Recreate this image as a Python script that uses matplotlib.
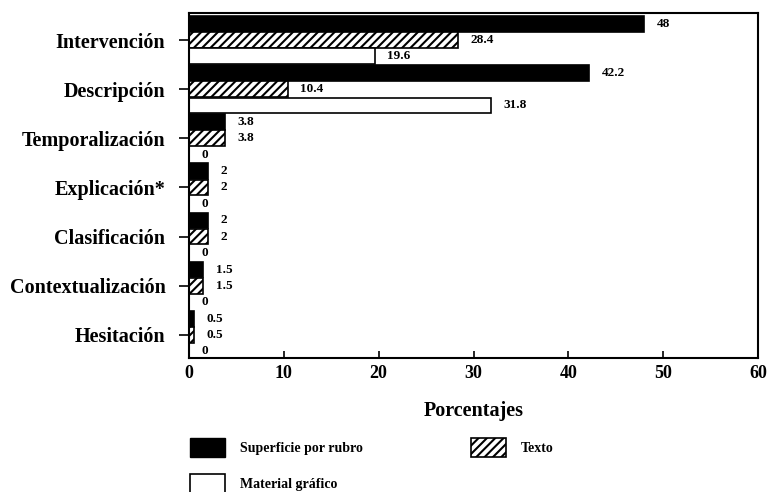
import matplotlib.pyplot as plt
from matplotlib.patches import Patch
import numpy as np

categorias = ['Intervención', 'Descripción', 'Temporalización', 'Explicación*',
              'Clasificación', 'Contextualización', 'Hesitación']
superficie = [48, 42.2, 3.8, 2, 2, 1.5, 0.5]
texto = [28.4, 10.4, 3.8, 2, 2, 1.5, 0.5]
material = [19.6, 31.8, 0, 0, 0, 0, 0]
etiq_sup = ['48', '42.2', '3.8', '2', '2', '1.5', '0.5']
etiq_tex = ['28.4', '10.4', '3.8', '2', '2', '1.5', '0.5']
etiq_mat = ['19.6', '31.8', '0', '0', '0', '0', '0']

plt.rcParams['font.family'] = 'Liberation Serif'
plt.rcParams['font.weight'] = 'bold'
plt.rcParams['hatch.linewidth'] = 1.5

fig = plt.figure(figsize=(7.69, 4.92), dpi=100)
ax = fig.add_axes([0.2458, 0.2724, 0.7399, 0.7012])

y = np.arange(len(categorias))
h = 0.32
d = 0.33
ax.barh(y - d, superficie, height=h, color='black', edgecolor='black', linewidth=1.2)
ax.barh(y, texto, height=h, color='white', edgecolor='black', hatch='////', linewidth=1.2)
ax.barh(y + d, material, height=h, color='white', edgecolor='black', linewidth=1.2)

# etiquetas de valor a la derecha de cada barra
for vals, labs, off in [(superficie, etiq_sup, -d), (texto, etiq_tex, 0), (material, etiq_mat, d)]:
    for i, (v, t) in enumerate(zip(vals, labs)):
        ax.annotate(t, (v, i + off), xytext=(9, 0), textcoords='offset points',
                    va='center', ha='left', fontsize=9.5, fontweight='bold')

ax.set_xlim(0, 60)
ax.set_ylim(6.47, -0.55)
ax.set_xticks(range(0, 61, 10))
ax.set_yticks(y)
ax.set_yticklabels(categorias, fontsize=14.5)
ax.tick_params(axis='x', direction='in', length=5, width=1.2, labelsize=13, pad=5)
ax.tick_params(axis='y', direction='out', length=7, width=1.2, pad=10)
for s in ax.spines.values():
    s.set_linewidth(1.5)
ax.set_xlabel('Porcentajes', fontsize=14.5, fontweight='bold', labelpad=14)

handles = [Patch(facecolor='black', edgecolor='black'),
           Patch(facecolor='white', edgecolor='black', linewidth=1.2),
           Patch(facecolor='white', edgecolor='black', hatch='////', linewidth=1.2)]
labels = ['Superficie por rubro', 'Material gráfico', 'Texto']
fig.legend(handles, labels, ncol=2, frameon=False, loc='upper left',
           bbox_to_anchor=(0.247, 0.11), fontsize=10, handlelength=2.5,
           handleheight=1.7, handletextpad=1.1, columnspacing=7.8, labelspacing=1.25,
           borderaxespad=0, borderpad=0)

fig.savefig('out.png', dpi=100)
plt.close(fig)
